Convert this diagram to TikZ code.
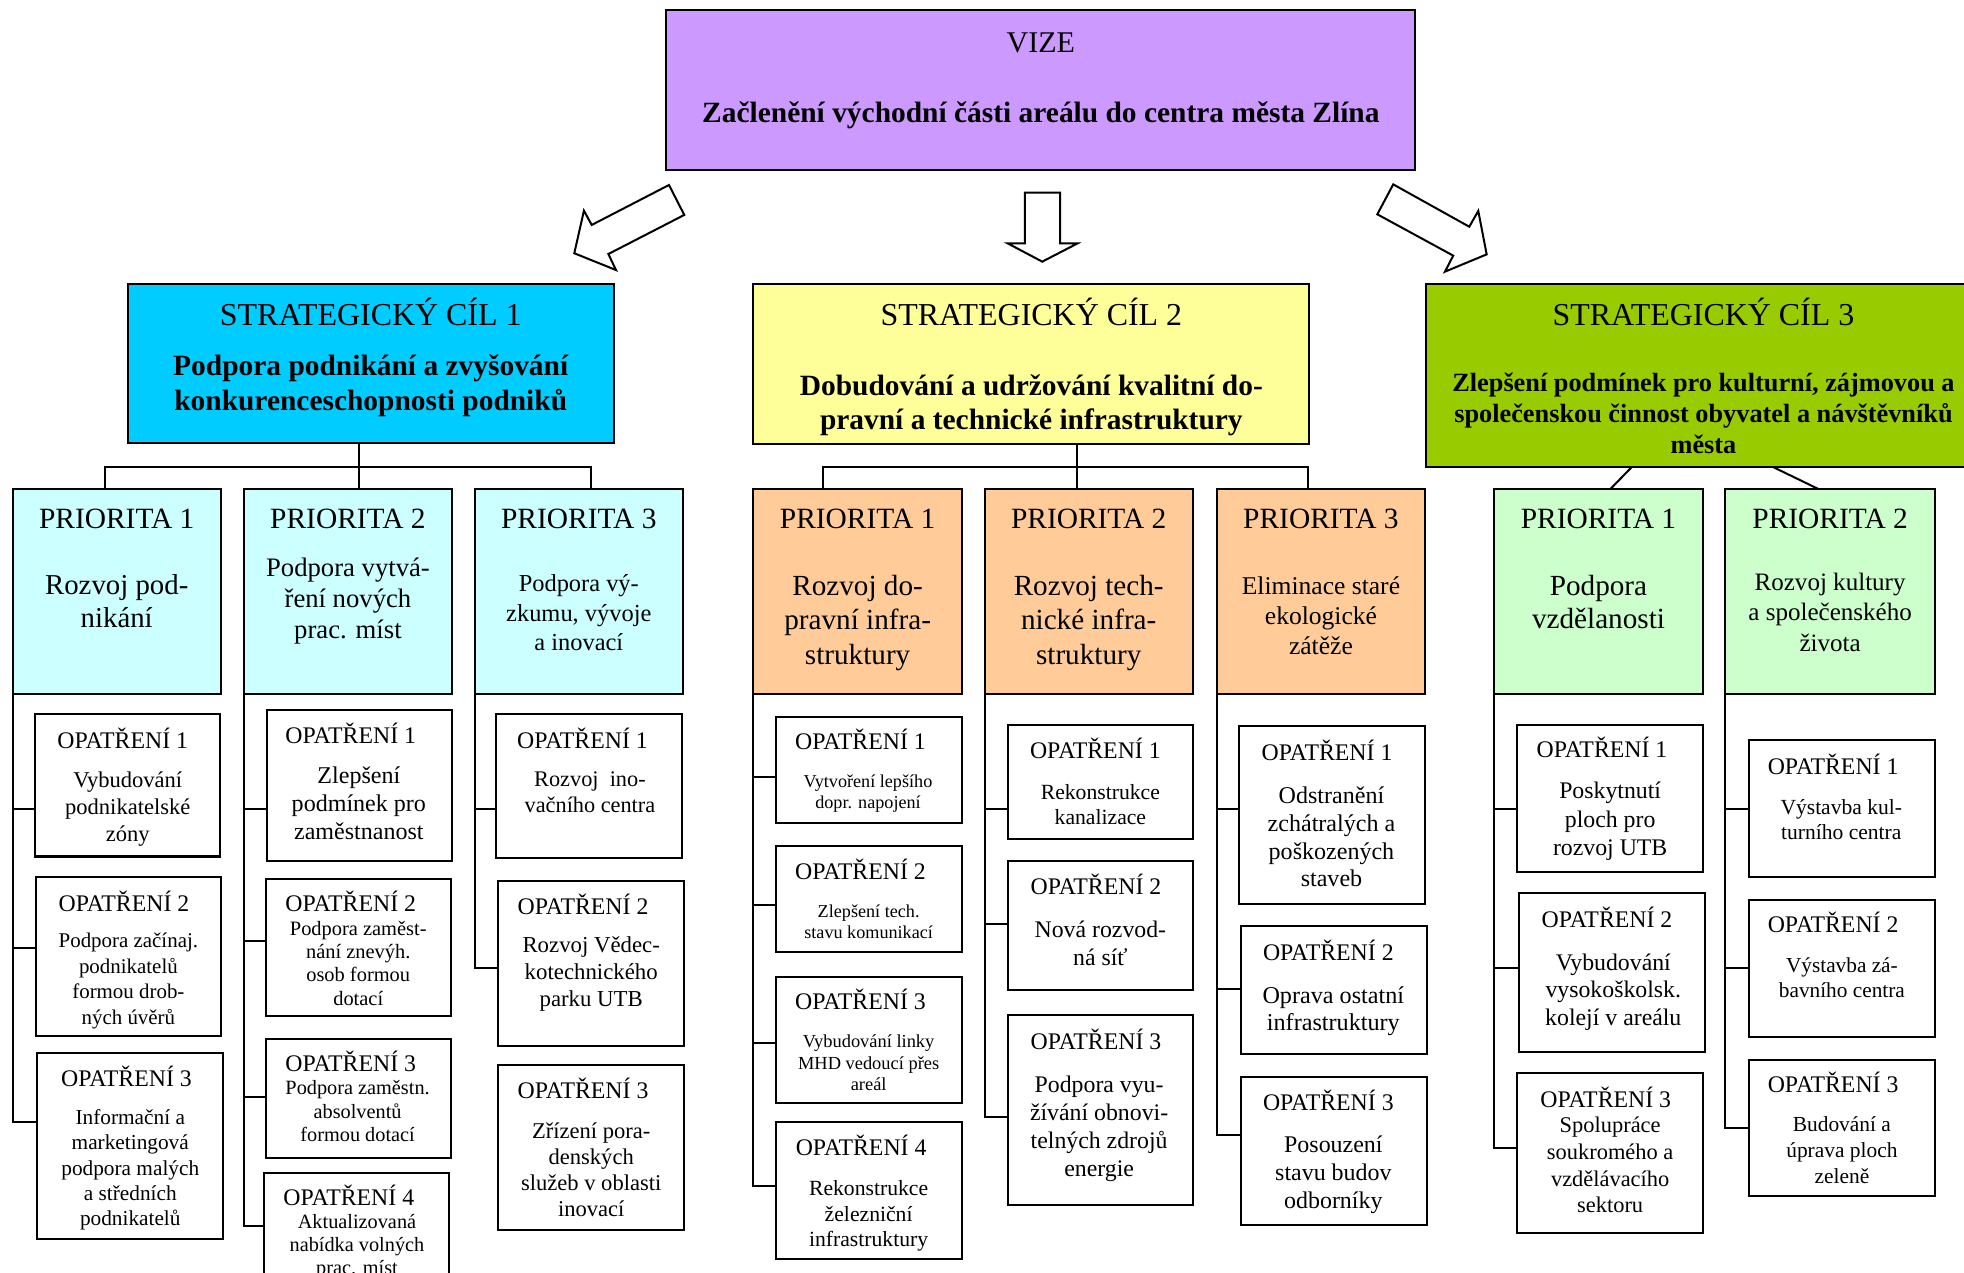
\documentclass[tikz,border=0pt]{standalone}
\usepackage{fontspec}
\setmainfont{Liberation Serif}
\usetikzlibrary{fit}
\definecolor{cvize}{HTML}{CC99FF}
\definecolor{csa}{HTML}{00CCFF}
\definecolor{csb}{HTML}{FFFF99}
\definecolor{csc}{HTML}{99CC00}
\definecolor{cpa}{HTML}{CCFFFF}
\definecolor{cpb}{HTML}{FFCC99}
\definecolor{cpc}{HTML}{CCFFCC}
\tikzset{
  boxst/.style={draw=black, line width=0.8pt, inner sep=0pt, outer sep=0pt},
  txst/.style={align=center, inner sep=0pt, outer sep=0pt, execute at begin node=\strut, execute at end node=\strut},
  lnst/.style={draw=black, line width=0.8pt},
  barrow/.style={draw=black, fill=white, line width=0.8pt, line join=miter}
}
\newcommand\mybox[6]{\node[boxst, fill=#6, fit={(#2,#3) (#4,#5)}] (#1) {};}
\newcommand\mytx[6]{\pgfmathsetmacro\tfs{#4/2}\pgfmathsetmacro\tbs{#5/2}\node[txst, font=\fontsize{\tfs pt}{\tbs pt}\selectfont] (#1) at ({#2},{#3+0.1*#4}) {#6};}
\newcommand\mytxb[6]{\pgfmathsetmacro\tfs{#4/2}\pgfmathsetmacro\tbs{#5/2}\node[txst, font=\fontsize{\tfs pt}{\tbs pt}\selectfont\bfseries] (#1) at ({#2},{#3+0.1*#4}) {#6};}
\begin{document}
\begin{tikzpicture}[x=0.5pt, y=-0.5pt]
\useasboundingbox (0,0) rectangle (1568,1016.3);
\fill[white] (0,0) rectangle (1568,1016.3);
\clip (0,0) rectangle (1568,1016.3);

% ---------- VIZE ----------
\mybox{V}{532}{8}{1130}{136}{cvize}
\mytx{Vt}{831}{34}{24}{28}{VIZE}
\mytxb{Vb}{831}{90}{23.5}{28}{Začlenění východní části areálu do centra města Zlína}

% ---------- block arrows ----------
\draw[barrow] (534.1,147.7) -- (546.3,171.6) -- (485.7,202.8) -- (491.8,215.6) -- (458.5,202.2) -- (466.2,168.2) -- (472.4,179.6) -- cycle;
\draw[barrow] (818.3,153.8) -- (846.3,153.8) -- (846.3,194.3) -- (860.3,194.3) -- (832.1,208.9) -- (804.5,194.3) -- (818.3,194.3) -- cycle;
\draw[barrow] (1112.3,147.2) -- (1173,181) -- (1180.2,168.4) -- (1186.9,203.1) -- (1153.6,216.9) -- (1160.2,204.1) -- (1099.6,171.1) -- cycle;

% ---------- strategic goals ----------
\mybox{S1}{102}{226.7}{490.4}{353.9}{csa}
\mytx{S1t}{296}{251}{25.5}{30}{STRATEGICKÝ CÍL 1}
\mytxb{S1b}{296}{307}{23.5}{28}{Podpora podnikání a zvyšování\\konkurenceschopnosti podniků}

\mybox{S2}{601.5}{226.7}{1045.2}{354.5}{csb}
\mytx{S2t}{823.4}{251}{25.5}{30}{STRATEGICKÝ CÍL 2}
\mytxb{S2b}{823.4}{322.7}{23.5}{27}{Dobudování a udržování kvalitní do-\\pravní a technické infrastruktury}

\mybox{S3}{1138.6}{226.7}{1581}{372.6}{csc}
\mytx{S3t}{1360}{251}{25.5}{30}{STRATEGICKÝ CÍL 3}
\mytxb{S3b}{1360}{331.7}{21}{24.8}{Zlepšení podmínek pro kulturní, zájmovou a\\společenskou činnost obyvatel a návštěvníků\\města}

% ---------- priorities ----------
\mybox{P11}{10}{390.4}{176.4}{554.3}{cpa}
\mybox{P12}{194.6}{390.4}{361}{554.3}{cpa}
\mybox{P13}{378.9}{390.4}{545.3}{554.3}{cpa}
\mybox{P21}{601.5}{390.4}{767.9}{554.3}{cpb}
\mybox{P22}{786}{390.4}{952.5}{554.3}{cpb}
\mybox{P23}{971.4}{390.4}{1137.9}{554.3}{cpb}
\mybox{P31}{1192.9}{390.4}{1359.5}{554.3}{cpc}
\mybox{P32}{1377.5}{390.4}{1544.7}{554.3}{cpc}

\mytx{P11t}{93.2}{414}{23.5}{28}{PRIORITA 1}
\mytx{P12t}{277.8}{414}{23.5}{28}{PRIORITA 2}
\mytx{P13t}{462.1}{414}{23.5}{28}{PRIORITA 3}
\mytx{P21t}{684.7}{414}{23.5}{28}{PRIORITA 1}
\mytx{P22t}{869.2}{414}{23.5}{28}{PRIORITA 2}
\mytx{P23t}{1054.6}{414}{23.5}{28}{PRIORITA 3}
\mytx{P31t}{1276.2}{414}{23.5}{28}{PRIORITA 1}
\mytx{P32t}{1461.1}{414}{23.5}{28}{PRIORITA 2}

\mytx{P11b}{93.2}{481.5}{23}{26}{Rozvoj pod-\\nikání}
\mytx{P12b}{277.8}{479.2}{21.3}{25}{Podpora vytvá-\\ření nových\\prac. míst}
\mytx{P13b}{462.1}{490.7}{19.5}{23.6}{Podpora vý-\\zkumu, vývoje\\a inovací}
\mytx{P21b}{684.7}{496.5}{23.3}{27.5}{Rozvoj do-\\pravní infra-\\struktury}
\mytx{P22b}{869.2}{496.5}{23.3}{27.5}{Rozvoj tech-\\nické infra-\\struktury}
\mytx{P23b}{1054.6}{492.8}{20.4}{24}{Eliminace staré\\ekologické\\zátěže}
\mytx{P31b}{1276.2}{482.2}{23.3}{26.6}{Podpora\\vzdělanosti}
\mytx{P32b}{1461.1}{490.4}{20}{24}{Rozvoj kultury\\a společenského\\života}

% ---------- goal -> priority connectors ----------
\coordinate (b1L) at (83.8,372.5);
\coordinate (b1C) at (287,372.5);
\coordinate (b1R) at (471.5,372.5);
\draw[lnst] (b1C |- S1.south) -- (b1C |- P12.north);
\draw[lnst] (b1L |- P11.north) |- (b1R) -- (b1R |- P13.north);
\coordinate (b2L) at (656.7,372.5);
\coordinate (b2C) at (860.2,372.5);
\coordinate (b2R) at (1044.5,372.5);
\draw[lnst] (b2C |- S2.south) -- (b2C |- P22.north);
\draw[lnst] (b2L |- P21.north) |- (b2R) -- (b2R |- P23.north);
\coordinate (k1a) at (1303,372.6);
\coordinate (k1b) at (1285.7,390.4);
\coordinate (k2a) at (1415,372.6);
\coordinate (k2b) at (1451.7,390.4);
\draw[lnst] (k1a) -- (k1b);
\draw[lnst] (k2a) -- (k2b);

% ---------- measures: SC1 / P1 ----------
\mybox{O111}{27.8}{570.4}{175.7}{683.8}{white}
\mytx{O111t}{98}{591}{19}{22}{OPATŘENÍ 1}
\mytx{O111b}{102}{645.6}{18}{21.8}{Vybudování\\podnikatelské\\zóny}
\mybox{O112}{28.5}{699.8}{176.8}{827.5}{white}
\mytx{O112t}{99}{720.6}{19}{22}{OPATŘENÍ 2}
\mytx{O112b}{102.5}{782.8}{16.7}{20.3}{Podpora začínaj.\\podnikatelů\\formou drob-\\ných úvěrů}
\mybox{O113}{29.9}{840.8}{178.2}{988.9}{white}
\mytx{O113t}{101}{861}{19}{22}{OPATŘENÍ 3}
\mytx{O113b}{104}{933.4}{17}{20}{Informační a\\marketingová\\podpora malých\\a středních\\podnikatelů}
\coordinate (O111s) at (27.8,645.8);
\coordinate (O112s) at (28.5,756.5);
\coordinate (O113s) at (29.9,896);
\draw[lnst] (P11.south west) |- (O111s);
\draw[lnst] (P11.south west) |- (O112s);
\draw[lnst] (P11.south west) |- (O113s);

% ---------- SC1 / P2 ----------
\mybox{O121}{212.8}{567.2}{360.7}{687.4}{white}
\mytx{O121t}{280}{587}{19}{22}{OPATŘENÍ 1}
\mytx{O121b}{286.5}{642.6}{19.2}{22}{Zlepšení\\podmínek pro\\zaměstnanost}
\mybox{O122}{212.4}{701.6}{360.3}{811.4}{white}
\mytx{O122t}{280}{720.6}{19}{22}{OPATŘENÍ 2}
\mytx{O122b}{286}{770.1}{16.3}{18.5}{Podpora zaměst-\\nání znevýh.\\osob formou\\dotací}
\mybox{O123}{212.4}{829.2}{360.3}{924.8}{white}
\mytx{O123t}{280}{848.6}{19}{22}{OPATŘENÍ 3}
\mytx{O123b}{285.5}{888.2}{16.2}{18.9}{Podpora zaměstn.\\absolventů\\formou dotací}
\mybox{O124}{211}{936.2}{358.5}{1040}{white}
\mytx{O124t}{278.5}{956}{19}{22}{OPATŘENÍ 4}
\mytx{O124b}{285}{994.7}{16.2}{18.5}{Aktualizovaná\\nabídka volných\\prac. míst}
\coordinate (O121s) at (212.8,645.8);
\coordinate (O122s) at (212.4,751.5);
\coordinate (O123s) at (212.4,875.8);
\coordinate (O124s) at (211,979);
\draw[lnst] (P12.south west) |- (O121s);
\draw[lnst] (P12.south west) |- (O122s);
\draw[lnst] (P12.south west) |- (O123s);
\draw[lnst] (P12.south west) |- (O124s);

% ---------- SC1 / P3 ----------
\mybox{O131}{396.3}{570.4}{544.2}{685}{white}
\mytx{O131t}{465}{591}{19}{22}{OPATŘENÍ 1}
\mytx{O131b}{471}{634}{17.8}{20.7}{Rozvoj\ \ ino-\\vačního centra}
\mybox{O132}{397.7}{703.1}{545.7}{834.9}{white}
\mytx{O132t}{465.5}{723}{19}{22}{OPATŘENÍ 2}
\mytx{O132b}{472}{777.4}{18.2}{21.5}{Rozvoj Vědec-\\kotechnického\\parku UTB}
\mybox{O133}{397.7}{850}{545.7}{981.8}{white}
\mytx{O133t}{465.5}{869.9}{19}{22}{OPATŘENÍ 3}
\mytx{O133b}{472}{935}{18}{20.8}{Zřízení pora-\\denských\\služeb v oblasti\\inovací}
\coordinate (O131s) at (396.3,645.8);
\coordinate (O132s) at (397.7,772.8);
\draw[lnst] (P13.south west) |- (O131s);
\draw[lnst] (P13.south west) |- (O132s);

% ---------- SC2 / P1 ----------
\mybox{O211}{619.3}{572.2}{767.9}{656.8}{white}
\mytx{O211t}{687}{591.8}{19}{22}{OPATŘENÍ 1}
\mytx{O211b}{693}{633.2}{14.5}{17.5}{Vytvoření lepšího\\dopr. napojení}
\mybox{O212}{619.3}{675.5}{767.9}{760.1}{white}
\mytx{O212t}{687}{695.4}{19}{22}{OPATŘENÍ 2}
\mytx{O212b}{693.5}{736.8}{14.5}{17}{Zlepšení tech.\\stavu komunikací}
\mybox{O213}{619.3}{779.7}{767.9}{880.3}{white}
\mytx{O213t}{687}{799.5}{19}{22}{OPATŘENÍ 3}
\mytx{O213b}{693.5}{849.6}{14.7}{17.3}{Vybudování linky\\MHD vedoucí přes\\areál}
\mybox{O214}{619.3}{896}{767.9}{1005.5}{white}
\mytx{O214t}{687.5}{915.9}{19}{22}{OPATŘENÍ 4}
\mytx{O214b}{693.5}{970.1}{17.3}{20}{Rekonstrukce\\železniční\\infrastruktury}
\coordinate (O211s) at (619.3,620);
\coordinate (O212s) at (619.3,722.4);
\coordinate (O213s) at (619.3,832.8);
\coordinate (O214s) at (619.3,947);
\draw[lnst] (P21.south west) |- (O211s);
\draw[lnst] (P21.south west) |- (O212s);
\draw[lnst] (P21.south west) |- (O213s);
\draw[lnst] (P21.south west) |- (O214s);

% ---------- SC2 / P2 ----------
\mybox{O221}{804.6}{578.5}{952.5}{669.6}{white}
\mytx{O221t}{874.5}{598.9}{19}{22}{OPATŘENÍ 1}
\mytx{O221b}{878.5}{643.3}{17.3}{20}{Rekonstrukce\\kanalizace}
\mybox{O222}{804.6}{687.4}{952.5}{790.7}{white}
\mytx{O222t}{875}{707.5}{19}{22}{OPATŘENÍ 2}
\mytx{O222b}{878.5}{754.6}{19}{22.8}{Nová rozvod-\\ná síť}
\mybox{O223}{804.6}{810}{952.5}{961.9}{white}
\mytx{O223t}{875}{831.3}{19}{22}{OPATŘENÍ 3}
\mytx{O223b}{877.5}{900.3}{19}{22.3}{Podpora vyu-\\žívání obnovi-\\telných zdrojů\\energie}
\coordinate (O221s) at (804.6,645.8);
\coordinate (O222s) at (804.6,737.8);
\coordinate (O223s) at (804.6,891.5);
\draw[lnst] (P22.south west) |- (O221s);
\draw[lnst] (P22.south west) |- (O222s);
\draw[lnst] (P22.south west) |- (O223s);

% ---------- SC2 / P3 ----------
\mybox{O231}{989.2}{579.7}{1137.9}{722.1}{white}
\mytx{O231t}{1059.5}{600.7}{19}{22}{OPATŘENÍ 1}
\mytx{O231b}{1063}{669.7}{19.2}{22.1}{Odstranění\\zchátralých a\\poškozených\\staveb}
\mybox{O232}{990.6}{739.3}{1139}{841.7}{white}
\mytx{O232t}{1060.5}{760.1}{19}{22}{OPATŘENÍ 2}
\mytx{O232b}{1064.5}{806.5}{19.3}{21.6}{Oprava ostatní\\infrastruktury}
\mybox{O233}{990.6}{859.5}{1139}{977.7}{white}
\mytx{O233t}{1060.5}{879.7}{19}{22}{OPATŘENÍ 3}
\mytx{O233b}{1064.5}{937.4}{19.1}{22.3}{Posouzení\\stavu budov\\odborníky}
\coordinate (O231s) at (989.2,645.8);
\coordinate (O232s) at (990.6,789.2);
\coordinate (O233s) at (990.6,906.1);
\draw[lnst] (P23.south west) |- (O231s);
\draw[lnst] (P23.south west) |- (O232s);
\draw[lnst] (P23.south west) |- (O233s);

% ---------- SC3 / P1 ----------
\mybox{O311}{1211}{578.5}{1359.6}{696.3}{white}
\mytx{O311t}{1279}{598.4}{19}{22}{OPATŘENÍ 1}
\mytx{O311b}{1285.5}{655.3}{19}{22.7}{Poskytnutí\\ploch pro\\rozvoj UTB}
\mybox{O312}{1212.4}{712.9}{1361}{840.2}{white}
\mytx{O312t}{1283}{733.4}{19}{22}{OPATŘENÍ 2}
\mytx{O312b}{1288}{791.5}{19}{22.2}{Vybudování\\vysokoškolsk.\\kolejí v areálu}
\mybox{O313}{1211}{856.5}{1359.6}{984.2}{white}
\mytx{O313t}{1282}{877.3}{19}{22}{OPATŘENÍ 3}
\mytx{O313b}{1285.5}{931.6}{17.9}{21.3}{Spolupráce\\soukromého a\\vzdělávacího\\sektoru}
\coordinate (O311s) at (1211,645.8);
\coordinate (O312s) at (1212.4,772.8);
\coordinate (O313s) at (1211,916.8);
\draw[lnst] (P31.south west) |- (O311s);
\draw[lnst] (P31.south west) |- (O312s);
\draw[lnst] (P31.south west) |- (O313s);

% ---------- SC3 / P2 ----------
\mybox{O321}{1396.4}{590.9}{1544.6}{700.1}{white}
\mytx{O321t}{1463.5}{611.7}{19}{22}{OPATŘENÍ 1}
\mytx{O321b}{1470}{655.2}{17.2}{20}{Výstavba kul-\\turního centra}
\mybox{O322}{1396.4}{718.5}{1544.6}{827.7}{white}
\mytx{O322t}{1463.5}{737.8}{19}{22}{OPATŘENÍ 2}
\mytx{O322b}{1470.5}{782}{17}{20}{Výstavba zá-\\bavního centra}
\mybox{O323}{1396.4}{846.2}{1544.6}{955}{white}
\mytx{O323t}{1463.5}{865.4}{19}{22}{OPATŘENÍ 3}
\mytx{O323b}{1470.5}{919.4}{17.1}{20.5}{Budování a\\úprava ploch\\zeleně}
\coordinate (O321s) at (1396.4,645.8);
\coordinate (O322s) at (1396.4,772.8);
\coordinate (O323s) at (1396.4,900.4);
\draw[lnst] (P32.south west) |- (O321s);
\draw[lnst] (P32.south west) |- (O322s);
\draw[lnst] (P32.south west) |- (O323s);
\end{tikzpicture}
\end{document}
